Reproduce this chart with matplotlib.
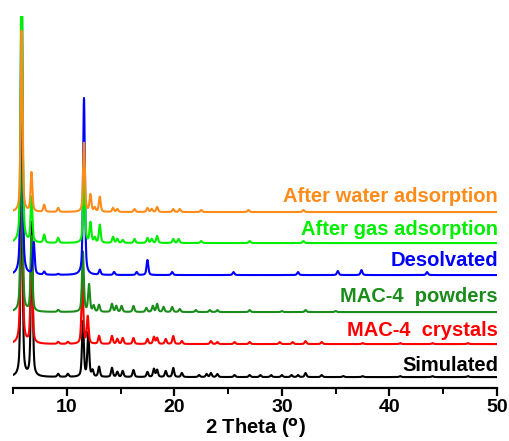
import numpy as np
import matplotlib
matplotlib.use('Agg')
import matplotlib.pyplot as plt
from matplotlib.ticker import MultipleLocator

plt.rcParams['font.family'] = ['Liberation Sans', 'DejaVu Sans']
plt.rcParams['font.weight'] = 'bold'

# peak positions (2 theta) and heights, for each pattern
sim_pos = [5.8, 6.75, 9.2, 10.1, 11.5, 12.0, 12.4, 13.0, 14.2, 14.7, 15.2, 16.2, 17.5, 18.1, 18.4,
           19.2, 19.9, 20.7, 22.3, 23.0, 23.4, 24.0, 25.6, 27.0, 28.0, 29.0, 30.0, 30.9, 31.5, 32.2,
           33.7, 35.7, 37.5, 41.0, 44.0, 47.3]
sim_h = [240, 154, 3, 3, 55, 44, 6, 10, 9, 5, 6, 7, 5, 8, 7,
         6, 9, 4, 2, 3, 4, 3, 2, 2, 2, 2, 2, 2, 2, 4,
         2, 1, 1, 1, 1, 1]

cry_pos = [5.8, 6.72, 9.2, 10.1, 11.45, 11.95, 13.0, 14.2, 14.7, 15.2, 16.2, 17.5, 18.1, 18.4,
           19.2, 19.9, 20.7, 23.4, 24.0, 25.6, 27.0, 29.8, 31.0, 32.2, 33.7, 37.5, 41.0, 44.0, 47.3]
cry_h = [250, 106, 2, 2, 64, 27, 8, 8, 5, 6, 6, 5, 7, 6,
         5, 8, 3, 3, 2, 2, 2, 2, 2, 3, 2, 1, 1, 1, 1]

pow_pos = [5.8, 6.72, 9.2, 11.5, 12.07, 12.5, 13.0, 14.2, 14.6, 15.1, 16.2, 17.4, 18.0, 18.4,
           19.0, 19.8, 20.5, 22.0, 23.3, 24.0, 27.0, 30.0, 32.2, 35.0]
pow_h = [215, 75, 2, 60, 27, 6, 7, 8, 6, 6, 6, 4, 6, 8,
         5, 5, 3, 2, 2, 2, 2, 1, 2, 1]

des_pos = [5.8, 6.93, 7.9, 9.2, 11.6, 13.07, 14.4, 16.5, 17.5, 19.8, 25.5, 31.5, 35.2, 37.4, 43.5]
des_h = [300, 32, 3, 1, 177, 5, 3, 3, 15, 3, 3, 3, 4, 5, 3]

gas_pos = [5.8, 6.72, 7.9, 9.2, 11.6, 12.2, 12.6, 13.07, 14.3, 14.7, 15.2, 16.3, 17.5, 17.9,
           18.4, 19.9, 20.4, 22.5, 27.0, 32.0]
gas_h = [300, 45, 8, 5, 75, 20, 5, 18, 6, 4, 3, 4, 5, 4,
         7, 4, 4, 2, 2, 2]

wat_pos = [5.8, 6.72, 7.9, 9.2, 11.6, 12.2, 12.6, 13.07, 14.3, 14.7, 16.3, 17.5, 17.9,
           18.4, 19.9, 20.5, 22.5, 26.9, 32.0]
wat_h = [181, 39, 7, 4, 69, 17, 4, 15, 4, 3, 3, 4, 3,
         5, 3, 3, 2, 2, 2]

labels = ['Simulated', 'MAC-4  crystals', 'MAC-4  powders', 'Desolvated',
          'After gas adsorption', 'After water adsorption']
colors = ['black', '#ff0000', '#1a8c1a', '#0000ff', '#00ee00', '#ff8c1a']
offsets = [11, 44, 76, 113, 145, 176]
label_gap = [6, 8, 10, 9, 8, 10]
peaks = [(sim_pos, sim_h), (cry_pos, cry_h), (pow_pos, pow_h),
         (des_pos, des_h), (gas_pos, gas_h), (wat_pos, wat_h)]

two_theta = np.linspace(5, 50, 4501)


def pattern(pos, h, fwhm=0.2, eta=0.5):
    # pseudo-voigt peak shapes
    y = np.zeros_like(two_theta)
    g = fwhm / 2
    s = fwhm / 2.3548
    for p, a in zip(pos, h):
        d = two_theta - p
        lor = g**2 / (g**2 + d**2)
        gau = np.exp(-0.5 * (d / s)**2)
        y += a * (eta * lor + (1 - eta) * gau)
    return y


fig = plt.figure(figsize=(5.10, 4.41), dpi=100)
ax = fig.add_axes([0.0255, 0.12, 0.949, 0.8437])

for (pos, h), c, off, gap, lab in zip(peaks, colors, offsets, label_gap, labels):
    ax.plot(two_theta, pattern(pos, h) + off, color=c, lw=1.5)
    ax.text(50.1, off + gap, lab, color=c, ha='right', va='baseline',
            fontsize=14.5, fontweight='bold')

ax.set_xlim(5, 50)
ax.set_ylim(0, 372)
ax.xaxis.set_major_locator(MultipleLocator(10))
ax.xaxis.set_minor_locator(MultipleLocator(5))
ax.set_yticks([])
for s in ['left', 'right', 'top']:
    ax.spines[s].set_visible(False)
ax.spines['bottom'].set_linewidth(1.6)
ax.tick_params(axis='x', which='major', length=6, width=1.6, labelsize=14, pad=2)
ax.tick_params(axis='x', which='minor', length=4, width=1.4)
ax.set_xlabel(r'2 Theta ($^{\rm o}$)', fontsize=14.5, fontweight='bold', labelpad=0)

fig.savefig('out.png', dpi=100)
